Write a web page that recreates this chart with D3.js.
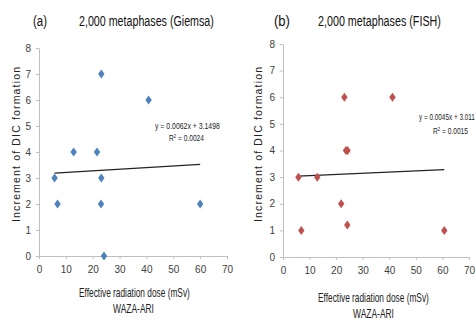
<!DOCTYPE html>
<html>
<head>
<meta charset="utf-8">
<script src="https://cdn.jsdelivr.net/npm/d3@7"></script>
<style>
  body { margin: 0; background: #fff; }
  text { font-family: "Liberation Sans", Arial, sans-serif; }
  .tick text { font-size: 10px; fill: #404040; }
</style>
</head>
<body>
<div id="chart"></div>
<script>
// * Data
var xTicks = [0, 10, 20, 30, 40, 50, 60, 70];
var yTicks = [0, 1, 2, 3, 4, 5, 6, 7, 8];

var giemsaDose = [23.2, 40.8, 12.9, 21.6, 5.8, 23.2, 6.9, 23.1, 60, 24.2];
var giemsaDic = [7, 6, 4, 4, 3, 3, 2, 2, 2, 0];
var giemsaFit = [0.0062, 3.1498];

var fishDose = [23.1, 41.2, 23.7, 24.3, 5.8, 12.9, 6.9, 21.9, 24.2, 60.7];
var fishDic = [6, 6, 4, 4, 3, 3, 1, 2, 1.2, 1];
var fishFit = [0.0045, 3.011];

var panels = [
  { label: "(a)", title: "2,000 metaphases (Giemsa)", xs: giemsaDose, ys: giemsaDic, fit: giemsaFit,
    eq: "y = 0.0062x + 3.1498", r2: "0.0024", color: "#4f81bd",
    left: 39, right: 227, top: 48, bottom: 256,
    eqX: 155, eqW: 65, eqY: 129, r2X: 169, r2Y: 141,
    labX: 20, labelX: 33, labelW: 14, titleX: 79, titleW: 135,
    axX: 79, axY: 297, wazaX: 113, wazaY: 313 },
  { label: "(b)", title: "2,000 metaphases (FISH)", xs: fishDose, ys: fishDic, fit: fishFit,
    eq: "y = 0.0045x + 3.011", r2: "0.0015", color: "#c0504d",
    left: 283, right: 469, top: 44, bottom: 257,
    eqX: 419, eqW: 56, eqY: 120, r2X: 433, r2Y: 134,
    labX: 262, labelX: 274, labelW: 16, titleX: 318, titleW: 123,
    axX: 318, axY: 302, wazaX: 353, wazaY: 318 }
];

var svg = d3.select("#chart").append("svg")
  .attr("width", 476)
  .attr("height", 320);

// squeeze a text horizontally to a given width (the original font is narrow)
function squeeze(t, x, y, w) {
  var len = t.node().getComputedTextLength();
  t.attr("transform", "translate(" + x + "," + y + ") scale(" + (w / len) + ",1)");
  return t;
}

panels.forEach(function (p) {
  var x = d3.scaleLinear().domain([0, 70]).range([p.left, p.right]);
  var y = d3.scaleLinear().domain([0, 8]).range([p.bottom, p.top]);
  var g = svg.append("g");

  // * axes
  var xAxis = g.append("g")
    .attr("transform", "translate(0," + p.bottom + ")")
    .call(d3.axisBottom(x).tickValues(xTicks).tickSize(3).tickPadding(7).tickSizeOuter(0));
  var yAxis = g.append("g")
    .attr("transform", "translate(" + p.left + ",0)")
    .call(d3.axisLeft(y).tickValues(yTicks).tickSize(3).tickPadding(5).tickSizeOuter(0));
  [xAxis, yAxis].forEach(function (a) {
    a.select(".domain").attr("stroke", "#bfbfbf");
    a.selectAll(".tick line").attr("stroke", "#bfbfbf");
  });

  // * trend line
  var fx = d3.extent(p.xs);
  g.append("line")
    .attr("x1", x(fx[0])).attr("y1", y(p.fit[0] * fx[0] + p.fit[1]))
    .attr("x2", x(fx[1])).attr("y2", y(p.fit[0] * fx[1] + p.fit[1]))
    .attr("stroke", "#222").attr("stroke-width", 1.2);

  // * diamond markers
  g.selectAll(".pt").data(p.xs).enter().append("path")
    .attr("class", "pt")
    .attr("d", "M0,-4.5L3.2,0L0,4.5L-3.2,0Z")
    .attr("fill", p.color)
    .attr("transform", function (d, i) { return "translate(" + x(d) + "," + y(p.ys[i]) + ")"; });

  // * equation
  squeeze(g.append("text").attr("font-size", 9.5).attr("fill", "#222").text(p.eq),
    p.eqX, p.eqY, p.eqW);
  var r = g.append("text").attr("font-size", 9.5).attr("fill", "#222");
  r.append("tspan").text("R");
  r.append("tspan").attr("dy", -3).attr("font-size", 6).text("2");
  r.append("tspan").attr("dy", 3).text(" = " + p.r2);
  squeeze(r, p.r2X, p.r2Y, 35);

  // * titles
  squeeze(g.append("text").attr("font-size", 15).attr("fill", "#111").text(p.label),
    p.labelX, 26, p.labelW);
  squeeze(g.append("text").attr("font-size", 15).attr("fill", "#111").text(p.title),
    p.titleX, 26, p.titleW);

  g.append("text")
    .attr("transform", "translate(" + p.labX + ",145) rotate(-90)")
    .attr("x", -77).attr("textLength", 155).attr("lengthAdjust", "spacing")
    .attr("font-size", 10.5).attr("fill", "#222")
    .text("Increment of DIC formation");

  squeeze(g.append("text").attr("font-size", 12.5).attr("fill", "#222")
    .text("Effective radiation dose (mSv)"), p.axX, p.axY, 111);
  squeeze(g.append("text").attr("font-size", 12.5).attr("fill", "#222")
    .text("WAZA-ARI"), p.wazaX, p.wazaY, 41);
});
</script>
</body>
</html>
